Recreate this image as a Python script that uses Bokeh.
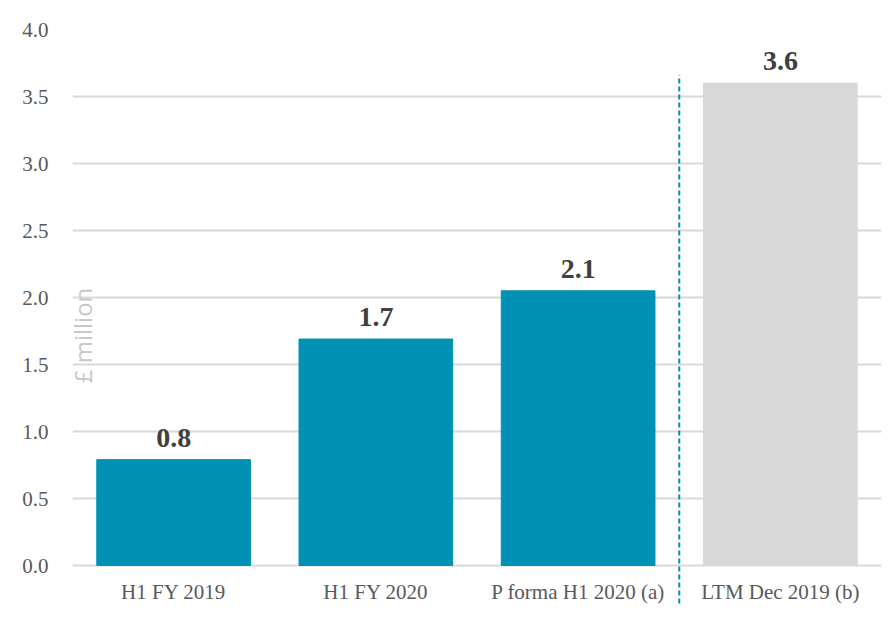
from bokeh.plotting import figure
from bokeh.models import ColumnDataSource, FactorRange, Range1d, Label, FixedTicker, CustomJSTickFormatter
from bokeh.core.properties import value
from bokeh.embed import file_html
from bokeh.resources import INLINE

categories = ["H1 FY 2019", "H1 FY 2020", "P forma H1 2020 (a)", "LTM Dec 2019 (b)"]
values = [0.79, 1.69, 2.05, 3.60]
labels = ["0.8", "1.7", "2.1", "3.6"]
colors = ["#0091B4", "#0091B4", "#0091B4", "#D9D9D9"]
y_ticks = [0.0, 0.5, 1.0, 1.5, 2.0, 2.5, 3.0, 3.5, 4.0]

src = ColumnDataSource(dict(cat=categories, val=values, lab=labels, col=colors,
                            zero=[0] * len(categories)))

p = figure(width=887, height=609, output_backend="svg", toolbar_location=None,
           x_range=FactorRange(*categories, range_padding=0),
           y_range=Range1d(-40 / 134, 4.0),
           min_border_left=72, min_border_right=6, min_border_top=29, min_border_bottom=4)
p.outline_line_color = None
p.background_fill_color = "white"
p.border_fill_color = "white"

p.vbar(x="cat", top="val", width=0.76, color="col", source=src)

# value labels
p.text(x="cat", y="val", text="lab", source=src, text_align="center", text_baseline="bottom",
       y_offset=-13, text_font=value("Liberation Serif"), text_font_style="bold",
       text_font_size="28px", text_color="#404040")

# category labels (x axis)
p.text(x="cat", y="zero", text="cat", source=src, text_align="center", text_baseline="middle",
       y_offset=26, text_font=value("Liberation Serif"), text_font_size="21px",
       text_color="#595959")

p.xaxis.visible = False
p.xgrid.visible = False

p.yaxis.ticker = FixedTicker(ticks=y_ticks)
p.yaxis.formatter = CustomJSTickFormatter(code="return tick.toFixed(1);")
p.yaxis.axis_line_color = None
p.yaxis.major_tick_line_color = None
p.yaxis.minor_tick_line_color = None
p.yaxis.major_label_text_font = "Liberation Serif"
p.yaxis.major_label_text_font_size = "21px"
p.yaxis.major_label_text_color = "#595959"
p.yaxis.major_label_standoff = 18

p.ygrid.ticker = FixedTicker(ticks=y_ticks)
p.ygrid.grid_line_color = "#D9D9D9"
p.ygrid.grid_line_width = 2

# divider between actual and LTM
p.segment(x0=[3.0], x1=[3.0], y0=[-1], y1=[3.66], line_color="#0091B4",
          line_width=2, line_dash="5 3")

p.add_layout(Label(x=10, y=270, x_units="screen", y_units="screen", text="£ million",
                   angle=1.5708, text_align="center", text_baseline="middle",
                   text_font="Open Sans", text_font_size="24px", text_color="#C8C8C8"))

open("out.html", "w").write(file_html(p, INLINE))
